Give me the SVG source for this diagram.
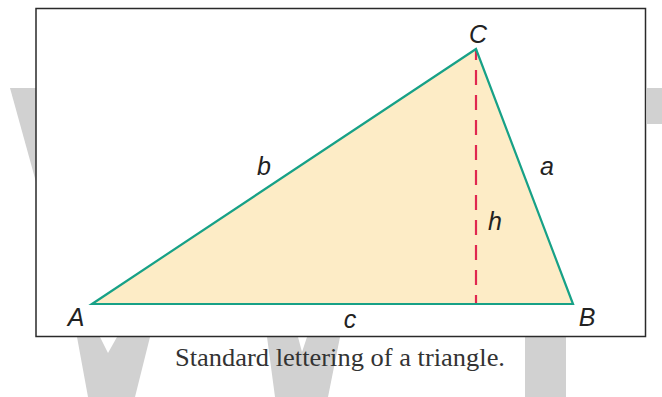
<svg xmlns="http://www.w3.org/2000/svg" width="662" height="397" viewBox="0 0 662 397">
  <style>
    .wm { fill: #d1d1d1; stroke: none; }
    .lbl { font-family: "Liberation Sans", Arial, sans-serif; font-style: italic; font-size: 25px; fill: #222222; text-anchor: middle; }
    .cap { font-family: "Liberation Serif", "Times New Roman", serif; font-size: 26px; fill: #333333; }
    .side { fill: none; stroke: #17a187; stroke-width: 2.2; stroke-linejoin: miter; }
  </style>
  <g id="watermark">
    <polygon class="wm" points="10,88 40,88 40,182 36,182"/>
    <polygon class="wm" points="77,337 100,337 108,353 117,337 150,337 135,397 88,397"/>
    <polygon class="wm" points="267,337 298,337 302,352 307,337 340,337 328,397 275,397"/>
    <rect class="wm" x="525" y="337" width="41" height="60"/>
    <rect class="wm" x="647" y="88" width="15" height="36"/>
  </g>
  <g id="frame">
    <rect x="36" y="8.5" width="609.5" height="328" fill="#ffffff" stroke="#2a2a2a" stroke-width="1.5"/>
  </g>
  <g id="triangle">
    <polygon points="92,304 573,304 476,49" fill="#fdecc6" stroke="none"/>
  </g>
  <g id="connectors">
    <line id="height-h" x1="476" y1="304" x2="476" y2="49" stroke="#e0284f" stroke-width="2.2" stroke-dasharray="15 10" stroke-dashoffset="6"/>
    <polygon class="side" points="92,304 573,304 476,49"/>
  </g>
  <g id="labels">
    <text class="lbl" x="478" y="43">C</text>
    <text class="lbl" x="264" y="175">b</text>
    <text class="lbl" x="547" y="175">a</text>
    <text class="lbl" x="495" y="230">h</text>
    <text class="lbl" x="350" y="328">c</text>
    <text class="lbl" x="76" y="326">A</text>
    <text class="lbl" x="587" y="326">B</text>
  </g>
  <g id="caption">
    <text class="cap" x="175" y="366" textLength="330" lengthAdjust="spacingAndGlyphs">Standard lettering of a triangle.</text>
  </g>
</svg>
